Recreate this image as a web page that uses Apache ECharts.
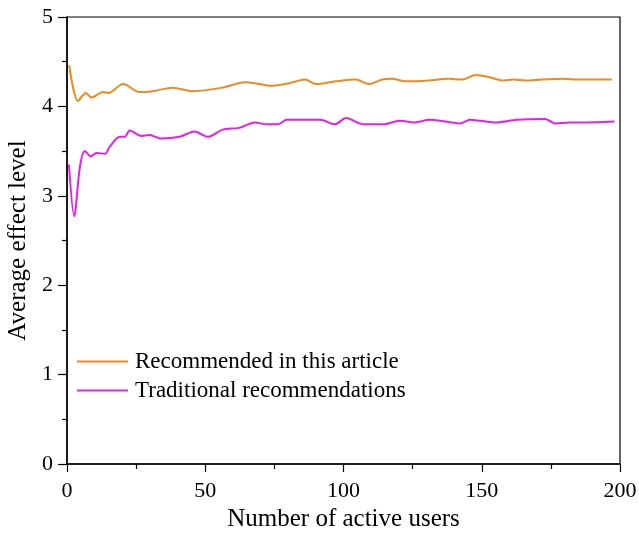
<!DOCTYPE html>
<html>
<head>
<meta charset="utf-8">
<script src="https://cdn.jsdelivr.net/npm/echarts@6/dist/echarts.min.js"></script>
<style>html,body{margin:0;padding:0;background:#fff;}#c{width:639px;height:533px;}</style>
</head>
<body>
<div id="c"></div>
<script>
const seriesNames = ['Recommended in this article', 'Traditional recommendations'];
const xRecommended = [0.8, 4, 6.8, 8.9, 13, 15, 20.3, 26.3, 31, 38.3, 45.5, 56.3, 64.2, 69.6, 73.2, 80.4, 86.1, 90, 97.2, 104.4, 109.2, 114, 117.5, 122.4, 130.8, 138, 142.8, 147.9, 152.4, 157.9, 161.5, 165.7, 171.7, 179.5, 184.9, 197];
const yRecommended = [4.46, 4.06, 4.15, 4.10, 4.16, 4.15, 4.25, 4.16, 4.17, 4.21, 4.17, 4.21, 4.27, 4.25, 4.23, 4.26, 4.30, 4.25, 4.28, 4.30, 4.25, 4.30, 4.31, 4.28, 4.29, 4.31, 4.30, 4.35, 4.33, 4.29, 4.30, 4.29, 4.30, 4.31, 4.30, 4.30];
const xTraditional = [0.7, 2.6, 4.7, 6.5, 8.6, 10.7, 13.7, 15.5, 19.1, 20.9, 22.7, 26.9, 29.9, 34.1, 40.7, 46.1, 50.9, 56.3, 62.3, 68, 72.2, 76.4, 79.5, 91.5, 96.9, 100.9, 107.2, 114.4, 120.4, 125.3, 131.3, 142.1, 145.8, 149.4, 155.4, 162.6, 172.9, 176.5, 181.9, 187.3, 198];
const yTraditional = [3.35, 2.77, 3.33, 3.50, 3.44, 3.48, 3.47, 3.55, 3.66, 3.66, 3.73, 3.67, 3.68, 3.64, 3.66, 3.72, 3.66, 3.74, 3.76, 3.82, 3.80, 3.80, 3.85, 3.85, 3.80, 3.87, 3.80, 3.80, 3.84, 3.82, 3.85, 3.81, 3.85, 3.84, 3.82, 3.85, 3.86, 3.81, 3.82, 3.82, 3.83];
const xTicks = [0, 50, 100, 150, 200];
const yTicks = [0, 1, 2, 3, 4, 5];
const xTitle = 'Number of active users';
const yTitle = 'Average effect level';
const colors = ['#F2891E', '#E81EE8'];

const pair = (xs, ys) => xs.map((x, i) => [x, ys[i]]);
const font = '"Liberation Serif", "Times New Roman", serif';
const chart = echarts.init(document.getElementById('c'));
chart.setOption({
  animation: false,
  backgroundColor: '#fff',
  grid: { left: 67, right: 19, top: 17, bottom: 69, containLabel: false, outerBoundsMode: 'none',
    show: true, borderColor: '#000', borderWidth: 1.2 },
  legend: {
    orient: 'vertical', left: 72, top: 345, itemWidth: 51, itemHeight: 2, itemGap: 6, icon: 'rect',
    textStyle: { fontFamily: font, fontSize: 23, color: '#000', padding: [0, 0, 0, 2] },
    data: seriesNames
  },
  xAxis: {
    type: 'value', min: xTicks[0], max: xTicks[xTicks.length - 1], interval: 50,
    name: xTitle, nameLocation: 'middle', nameGap: 41,
    nameTextStyle: { fontFamily: font, fontSize: 25, color: '#000' },
    axisLine: { lineStyle: { color: '#000', width: 1.5 } },
    axisTick: { show: true, inside: false, length: 8, lineStyle: { color: '#000', width: 1.2 } },
    minorTick: { show: true, splitNumber: 2, length: 5, lineStyle: { color: '#000', width: 1.2 } },
    axisLabel: { fontFamily: font, fontSize: 22, color: '#000', margin: 16 },
    splitLine: { show: false }
  },
  yAxis: {
    type: 'value', min: yTicks[0], max: yTicks[yTicks.length - 1], interval: 1,
    name: yTitle, nameLocation: 'middle', nameGap: 30,
    nameTextStyle: { fontFamily: font, fontSize: 25, color: '#000' },
    axisLine: { show: true, lineStyle: { color: '#000', width: 1.5 } },
    axisTick: { show: true, inside: false, length: 9, lineStyle: { color: '#000', width: 1.2 } },
    minorTick: { show: true, splitNumber: 2, length: 5, lineStyle: { color: '#000', width: 1.2 } },
    axisLabel: { fontFamily: font, fontSize: 22, color: '#000', margin: 14 },
    splitLine: { show: false }
  },
  series: [
    { name: seriesNames[0], type: 'line', data: pair(xRecommended, yRecommended), symbol: 'none', smooth: 0.3,
      lineStyle: { color: colors[0], width: 2 }, itemStyle: { color: colors[0] } },
    { name: seriesNames[1], type: 'line', data: pair(xTraditional, yTraditional), symbol: 'none', smooth: 0.3,
      lineStyle: { color: colors[1], width: 2 }, itemStyle: { color: colors[1] } }
  ]
});
</script>
</body>
</html>
